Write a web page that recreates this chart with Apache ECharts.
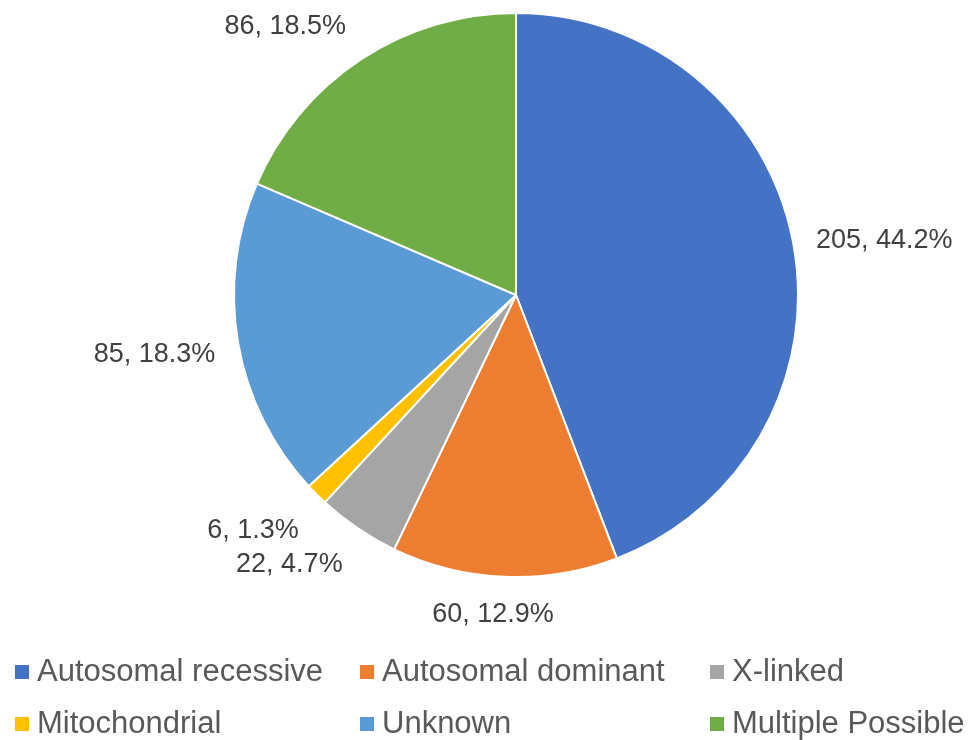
<!DOCTYPE html>
<html>
<head>
<meta charset="utf-8">
<script src="https://cdn.jsdelivr.net/npm/echarts@6/dist/echarts.min.js"></script>
<style>
  html, body { margin: 0; padding: 0; background: #fff; }
  #chart { width: 976px; height: 740px; }
</style>
</head>
<body>
<div id="chart"></div>
<script>
// 遗传方式分布
var categories = ['Autosomal recessive', 'Autosomal dominant', 'X-linked', 'Mitochondrial', 'Unknown', 'Multiple Possible'];
var counts = [205, 60, 22, 6, 85, 86];
var colors = ['#4472C4', '#ED7D31', '#A5A5A5', '#FFC000', '#5B9BD5', '#70AD47'];

var total = counts.reduce(function (a, b) { return a + b; }, 0);
var fontFamily = '"Liberation Sans", Arial, sans-serif';

var pieData = categories.map(function (name, i) {
    return { name: name, value: counts[i], itemStyle: { color: colors[i] } };
});

// 标签微调（Excel 的标签位置）
var labelDx = [0, 0, 0, 0, 0, 0];
var labelDy = [0, 20, 21, 23, 9, -18];

// legend is 3 columns x 2 rows
function legendCol(names, left) {
    return {
        orient: 'vertical',
        left: left,
        top: 650,
        height: 90,
        itemGap: 18,
        itemWidth: 16,
        itemHeight: 16,
        icon: 'rect',
        data: names,
        textStyle: { color: '#595959', fontSize: 31, lineHeight: 34, fontFamily: fontFamily, padding: [0, 0, 0, 2] }
    };
}

var chart = echarts.init(document.getElementById('chart'));
chart.setOption({
    animation: false,
    legend: [
        legendCol([categories[0], categories[3]], 8),
        legendCol([categories[1], categories[4]], 353),
        legendCol([categories[2], categories[5]], 703)
    ],
    series: [{
        type: 'pie',
        center: [516, 295],
        radius: [0, 282],
        startAngle: 90,
        clockwise: true,
        data: pieData,
        itemStyle: { borderColor: '#fff', borderWidth: 2 },
        label: {
            show: true,
            position: 'outside',
            color: '#404040',
            fontSize: 27,
            fontFamily: fontFamily,
            overflow: 'none',
            formatter: function (p) {
                return p.value + ', ' + (p.value / total * 100).toFixed(1) + '%';
            }
        },
        labelLine: { show: false, length: 18, length2: 0 },
        labelLayout: function (params) {
            var i = params.dataIndex;
            var r = params.labelRect;
            if (i === 1) {
                // 底部标签居中
                return { dx: 493 - (r.x + r.width / 2), dy: labelDy[i] };
            }
            return { dx: labelDx[i], dy: labelDy[i] };
        }
    }]
});
</script>
</body>
</html>
